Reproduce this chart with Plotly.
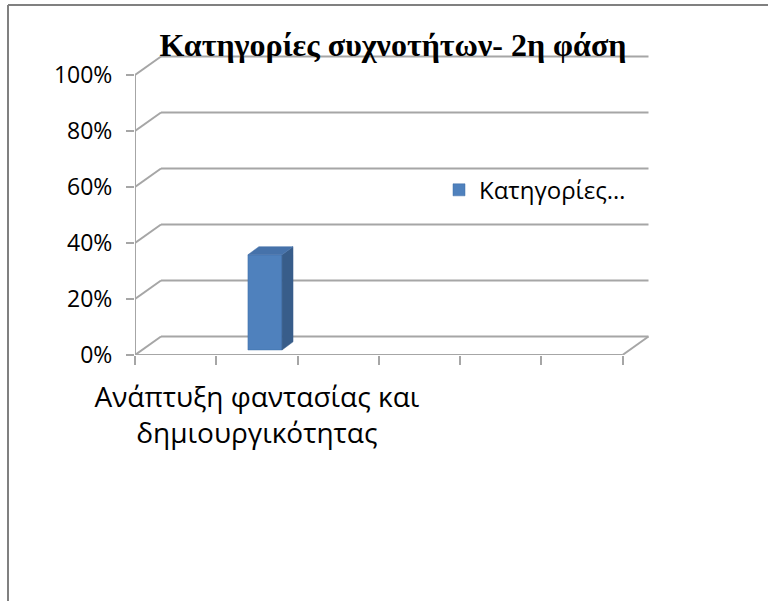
import plotly.graph_objects as go

# ---- data ----
categories = ["", "Ανάπτυξη φαντασίας και<br>δημιουργικότητας", "", "", "", ""]
values = [None, 0.34, None, None, None, None]
series_name = "Κατηγορίες…"
y_ticks = [0, 0.2, 0.4, 0.6, 0.8, 1.0]
y_tick_labels = ["0%", "20%", "40%", "60%", "80%", "100%"]
title_text = "Κατηγορίες συχνοτήτων- 2η φάση"

# ---- pseudo-3D geometry (in data units) ----
n = len(categories)
DX, DY = 0.32, 0.066        # back wall offset
BAR_W = 0.42                # bar front width
BAR_SHIFT_X, BAR_SHIFT_Y = 0.1, 0.018   # bar placed partway into depth
BAR_DX, BAR_DY = 0.135, 0.029           # bar depth
GRID = "#a6a6a6"
FRONT, SIDE, TOP = "#4f81bd", "#385d8a", "#4672aa"

fig = go.Figure()

# bars: front face via bar trace
xc = [i + 0.5 + BAR_SHIFT_X for i in range(n)]
fig.add_trace(go.Bar(
    x=xc, y=values, base=[BAR_SHIFT_Y] * n, width=BAR_W,
    marker=dict(color=FRONT, line=dict(color="#3f6ea6", width=0.5)),
    name=series_name, showlegend=True, hoverinfo="skip"))

# side & top faces
for x, v in zip(xc, values):
    if v is None:
        continue
    xl, xr = x - BAR_W / 2, x + BAR_W / 2
    yb, yt = BAR_SHIFT_Y, BAR_SHIFT_Y + v
    fig.add_trace(go.Scatter(
        x=[xr, xr + BAR_DX, xr + BAR_DX, xr, xr],
        y=[yb, yb + BAR_DY, yt + BAR_DY, yt, yb],
        fill="toself", fillcolor=SIDE, mode="lines",
        line=dict(color=SIDE, width=0.5), showlegend=False, hoverinfo="skip"))
    fig.add_trace(go.Scatter(
        x=[xl, xr, xr + BAR_DX, xl + BAR_DX, xl],
        y=[yt, yt, yt + BAR_DY, yt + BAR_DY, yt],
        fill="toself", fillcolor=TOP, mode="lines",
        line=dict(color=TOP, width=0.5), showlegend=False, hoverinfo="skip"))

# soft shadow dots below category ticks
fig.add_trace(go.Scatter(
    x=list(range(n + 1)), y=[-0.062] * (n + 1), mode="markers",
    marker=dict(color="#dcdcdc", size=8), cliponaxis=False,
    showlegend=False, hoverinfo="skip", xaxis="x", yaxis="y"))

# dummy trace for category label axis
fig.add_trace(go.Scatter(x=[i + 0.5 for i in range(n)], y=[None] * n,
                         xaxis="x2", yaxis="y", showlegend=False, hoverinfo="skip"))

shapes = []
# back wall gridlines + left diagonals
for v in y_ticks:
    shapes.append(dict(type="line", xref="x", yref="y", x0=DX, y0=v + DY, x1=n + DX, y1=v + DY,
                       line=dict(color=GRID, width=2.2), layer="below"))
    shapes.append(dict(type="line", xref="x", yref="y", x0=0, y0=v, x1=DX, y1=v + DY,
                       line=dict(color=GRID, width=2), layer="below"))
# floor front edge and right diagonal
shapes.append(dict(type="line", xref="x", yref="y", x0=0, y0=0, x1=n, y1=0,
                   line=dict(color=GRID, width=2), layer="below"))
shapes.append(dict(type="line", xref="x", yref="y", x0=n, y0=0, x1=n + DX, y1=DY,
                   line=dict(color=GRID, width=2), layer="below"))
# front vertical axis
shapes.append(dict(type="line", xref="x", yref="y", x0=0, y0=0, x1=0, y1=1,
                   line=dict(color=GRID, width=2), layer="below"))
# outer chart border (top and left) in paper coords
BX = (8 - 135) / 520
BY_TOP = (355 - 5) / 308
BY_BOT = (355 - 605) / 308
shapes.append(dict(type="line", xref="paper", yref="paper", x0=BX, y0=BY_TOP, x1=1.3, y1=BY_TOP,
                   line=dict(color="#808080", width=2)))
shapes.append(dict(type="line", xref="paper", yref="paper", x0=BX, y0=BY_TOP, x1=BX, y1=BY_BOT,
                   line=dict(color="#808080", width=2)))

fig.update_layout(
    width=768, height=601,
    margin=dict(l=135, r=113, t=47, b=246),
    paper_bgcolor="white", plot_bgcolor="white",
    showlegend=True,
    shapes=shapes,
    title=dict(text="<b>" + title_text + "</b>", x=393 / 768, xanchor="center",
               y=1 - 45 / 601, yanchor="middle", yref="container",
               font=dict(family="Liberation Serif", size=32, color="black")),
    xaxis=dict(range=[0, 6.4], showgrid=False, zeroline=False, showline=False,
               tickmode="array", tickvals=list(range(n + 1)), ticktext=[""] * (n + 1),
               ticks="outside", ticklen=9, tickcolor=GRID, tickwidth=2,
               fixedrange=True),
    xaxis2=dict(range=[0, 6.4], overlaying="x", side="bottom", showgrid=False,
                zeroline=False, showline=False, tickmode="array",
                tickvals=[i + 0.5 for i in range(n)], ticktext=categories,
                ticks="outside", ticklen=17, tickcolor="rgba(0,0,0,0)",
                tickfont=dict(family="Open Sans", size=28, color="black")),
    yaxis=dict(range=[0, 1.1], showgrid=False, zeroline=False, showline=False,
               tickmode="array", tickvals=y_ticks, ticktext=y_tick_labels,
               ticks="outside", ticklen=8, tickcolor=GRID, tickwidth=2,
               ticklabelstandoff=9,
               tickfont=dict(family="Open Sans", size=23, color="black")),
    legend=dict(x=(439 - 135) / 520, xanchor="left", y=0.535, yanchor="middle",
                bgcolor="rgba(0,0,0,0)", font=dict(family="Open Sans", size=24, color="black"),
                itemwidth=30),
)

fig.write_html("out.html")
